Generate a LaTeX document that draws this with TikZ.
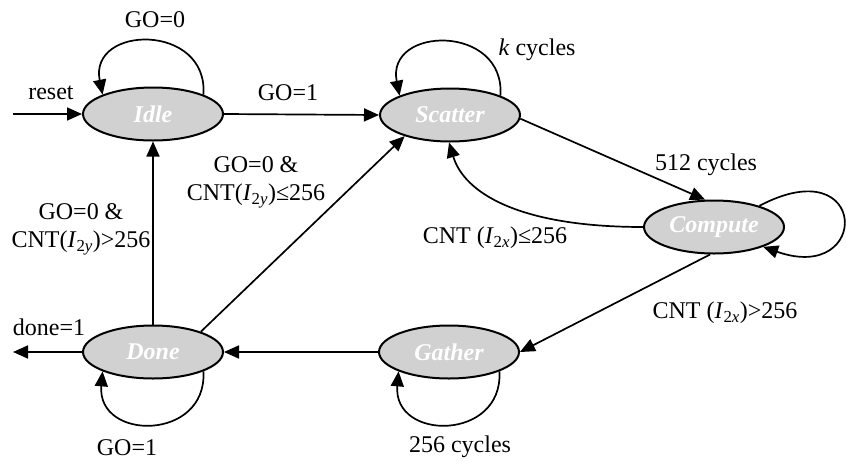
\documentclass[tikz,border=0pt]{standalone}
\usepackage{fontspec}
\setmainfont{Liberation Serif}
\usetikzlibrary{arrows.meta,shapes.geometric}
\definecolor{stategray}{RGB}{208,209,208}
\newcommand{\Isub}[1]{\textit{I}\textsubscript{2\textit{#1}}}
\begin{document}
\begin{tikzpicture}[x=1pt,y=-1pt,
  state/.style={ellipse,draw,line width=2pt,fill=stategray,
    minimum width=140pt,minimum height=53pt,inner sep=0pt,
    font=\fontsize{24}{28}\selectfont\bfseries\itshape,text=white},
  lbl/.style={font=\fontsize{24}{28}\selectfont,align=center,inner sep=0pt},
  edge/.style={line width=1.7pt,-{Triangle[length=15pt,width=13pt]}}]
\useasboundingbox (0,0) rectangle (846,461);

% states
\node[state] (Idle)    at (153,114) {Idle};
\node[state] (Scatter) at (450,115) {Scatter};
\node[state] (Compute) at (714,227) {Compute};
\node[state] (Done)    at (153,352) {Done};
\node[state] (Gather)  at (449,352) {Gather};

% free ends of the external arrows
\coordinate (resetin) at (13,114);
\coordinate (doneout) at (13,352);

% transitions
\draw[edge] (resetin) -- (Idle.west);
\draw[edge] (Idle.21) .. controls +(5,-72) and +(-14,-70) .. (Idle.159);
\draw[edge] (Idle.east) -- (Scatter.west);
\draw[edge] (Scatter.21) .. controls +(5,-72) and +(-14,-70) .. (Scatter.159);
\draw[edge] (Scatter.-3) -- (Compute.108);
\draw[edge] (Compute.west) .. controls +(-125,0) and +(15,50) .. (Scatter.268);
\draw[edge] (Compute.25) .. controls +(110,-58) and +(108,38) .. (Compute.-22);
\draw[edge] (Compute.262) -- (Gather.east);
\draw[edge] (Gather.west) -- (Done.east);
\draw[edge] (Done.-21) .. controls +(4,70) and +(-6,70) .. (Done.201);
\draw[edge] (Gather.-21) .. controls +(4,70) and +(-6,70) .. (Gather.201);
\draw[edge] (Done.north) -- (Idle.south);
\draw[edge] (Done.23) -- (Scatter.205);
\draw[edge] (Done.west) -- (doneout);

% transition labels
\node[lbl] (lreset)   at (51,93)   {reset};
\node[lbl] (lgo0)     at (155,20)  {GO=0};
\node[lbl] (lgo1)     at (288,93)  {GO=1};
\node[lbl] (lk)       at (537,50)  {\textit{k} cycles};
\node[lbl] (l512)     at (706,165) {512 cycles};
\node[lbl] (lle)      at (495,238) {CNT (\Isub{x})≤256};
\node[lbl] (lgt)      at (725,313) {CNT (\Isub{x})>256};
\node[lbl] (lidle)    at (81,229)  {GO=0 \&\\CNT(\Isub{y})>256};
\node[lbl] (lscat)    at (256,182) {GO=0 \&\\CNT(\Isub{y})≤256};
\node[lbl] (ldone)    at (49,327)  {done=1};
\node[lbl] (lgodone)  at (127,448) {GO=1};
\node[lbl] (l256)     at (460,447) {256 cycles};
\end{tikzpicture}
\end{document}
